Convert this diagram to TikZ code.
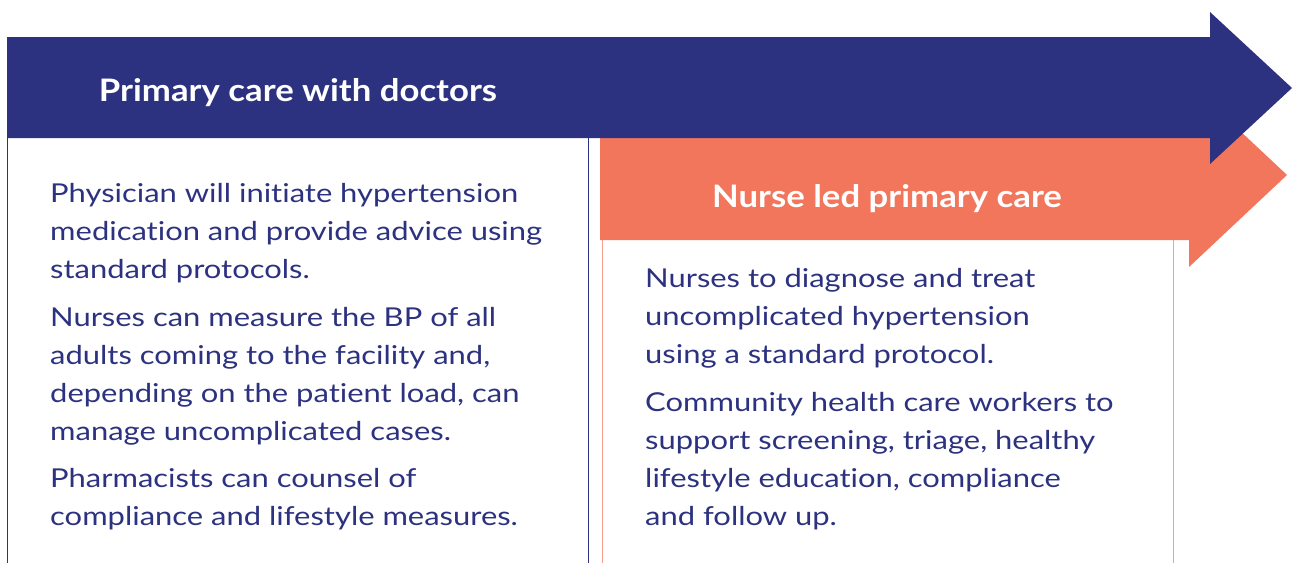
\documentclass[tikz,border=0pt]{standalone}
\usepackage{fontspec}
\setmainfont{Lato}
\newfontfamily\bodyfont{Lato}[FakeStretch=1.19, Ligatures=NoCommon]
\newfontfamily\headfont{Lato}[FakeStretch=1.12]
\usetikzlibrary{positioning}
\definecolor{navy}{HTML}{2C3280}
\definecolor{salmon}{HTML}{F2765B}

\begin{document}
\begin{tikzpicture}[x=1pt, y=-1pt,
    body/.style={anchor=north west, align=left, inner sep=0pt, text=navy, font=\bodyfont\fontsize{26}{38}\selectfont},
    head/.style={text=white, inner sep=0pt, font=\headfont\fontsize{31}{36}\selectfont\bfseries},
    rule/.style={line width=1pt}
]
\useasboundingbox (0,0) rectangle (1292,563);

% arrows
\fill[salmon] (600,138) -- (1189,138) -- (1189,83) -- (1287,175) -- (1189,267) -- (1189,240) -- (600,240) -- cycle;
\fill[navy] (7,37) -- (1210,37) -- (1210,12) -- (1292,88) -- (1210,164) -- (1210,138) -- (7,138) -- cycle;
\node[head] (doctors) at (298,93) {Primary care with doctors};
\node[head] (nurses) at (887,199) {Nurse led primary care};

% columns
\draw[rule, navy] (7,138) -- (7,563) (588,138) -- (588,563);
\draw[rule, salmon!70] (602,240) -- (602,563) (1173,240) -- (1173,563);

\node[body] (physician) at (50,183) {Physician will initiate hypertension\\medication and provide advice using\\standard protocols.};
\node[body] (measure) at (50,307) {Nurses can measure the BP of all\\adults coming to the facility and,\\depending on the patient load, can\\manage uncomplicated cases.};
\node[body] (pharma) at (50,468) {Pharmacists can counsel of\\compliance and lifestyle measures.};

\node[body] (diagnose) at (645,268) {Nurses to diagnose and treat\\uncomplicated hypertension\\using a standard protocol.};
\node[body] (community) at (645,392) {Community health care workers to\\support screening, triage, healthy\\lifestyle education, compliance\\and follow up.};
\end{tikzpicture}
\end{document}
